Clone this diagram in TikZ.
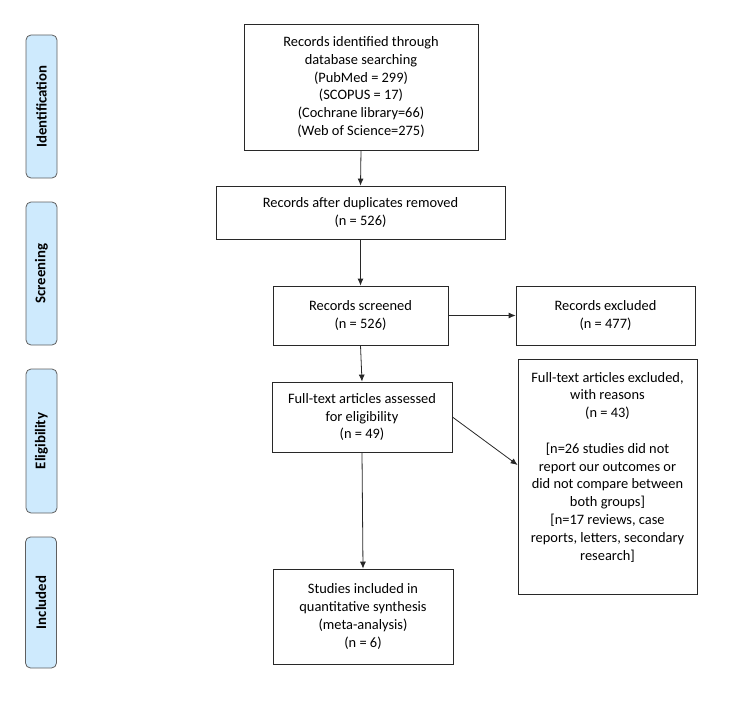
\documentclass[tikz,border=0pt]{standalone}
\usepackage{fontspec}
\setmainfont{Carlito}
\usetikzlibrary{arrows.meta}
\definecolor{phasefill}{RGB}{206,234,253}
\definecolor{phaseedge}{RGB}{95,95,95}
\definecolor{lineclr}{RGB}{40,40,40}
\begin{document}
\begin{tikzpicture}[x=1pt,y=-1pt,
  box/.style={draw=lineclr,line width=0.8pt,rectangle,align=center,inner sep=0pt,
    font=\fontsize{14.4}{17.8}\selectfont},
  txt/.style={align=center,inner sep=0pt,font=\fontsize{14.4}{17.8}\selectfont},
  phase/.style={draw=phaseedge,fill=phasefill,line width=0.8pt,rounded corners=5pt,
    rotate=90,inner sep=0pt,minimum height=31pt,font=\bfseries\fontsize{14.8}{16}\selectfont},
  arr/.style={draw=lineclr,line width=0.8pt,-{Latex[length=7pt,width=6pt]}}
]
\useasboundingbox (0,0) rectangle (750,709);
% phase labels
\node[phase,minimum width=143pt] (pid) at (41.5,106.5) {Identification};
\node[phase,minimum width=143pt] (psc) at (41.5,273.5) {Screening};
\node[phase,minimum width=144pt] (pel) at (41.5,441) {Eligibility};
\node[phase,minimum width=131pt] (pin) at (41,602.5) {Included};
% boxes
\node[box,minimum width=234pt,minimum height=126pt] (b1) at (361,87)
  {Records identified through\\database searching\\(PubMed = 299)\\(SCOPUS = 17)\\(Cochrane library=66)\\(Web of Science=275)};
\node[box,minimum width=289pt,minimum height=53pt] (b2) at (360.5,212.5)
  {Records after duplicates removed\\(n = 526)};
\node[box,minimum width=175pt,minimum height=59pt] (b3) at (360.5,315.5)
  {Records screened\\(n = 526)};
\node[box,minimum width=179pt,minimum height=59pt] (e1) at (605.5,315.5)
  {Records excluded\\(n = 477)};
\node[box,minimum width=180pt,minimum height=70pt] (b4) at (362,417)
  {Full-text articles assessed\\for eligibility\\(n = 49)};
\node[box,minimum width=179pt,minimum height=235pt] (e2) at (607.5,476.5) {};
\node[txt] (e2t) at (607.5,467)
  {Full-text articles excluded,\\with reasons\\(n = 43)\\[17.8pt]{[}n=26 studies did not\\report our outcomes or\\did not compare between\\both groups{]}\\{[}n=17 reviews, case\\reports, letters, secondary\\research{]}};
\node[box,minimum width=180pt,minimum height=95pt] (b5) at (363,616.5)
  {Studies included in\\quantitative synthesis\\(meta-analysis)\\(n = 6)};
% connectors
\coordinate (e2in) at ([yshift=11.5pt]e2.west);
\draw[arr] (b1.south) -- (b2.north);
\draw[arr] (b2.south) -- (b3.north);
\draw[arr] (b3.east) -- (e1.west);
\draw[arr] (b3.south) -- (b4.north);
\draw[arr] (b4.east) -- (e2in);
\draw[arr] (b4.south) -- (b5.north);
\end{tikzpicture}
\end{document}
